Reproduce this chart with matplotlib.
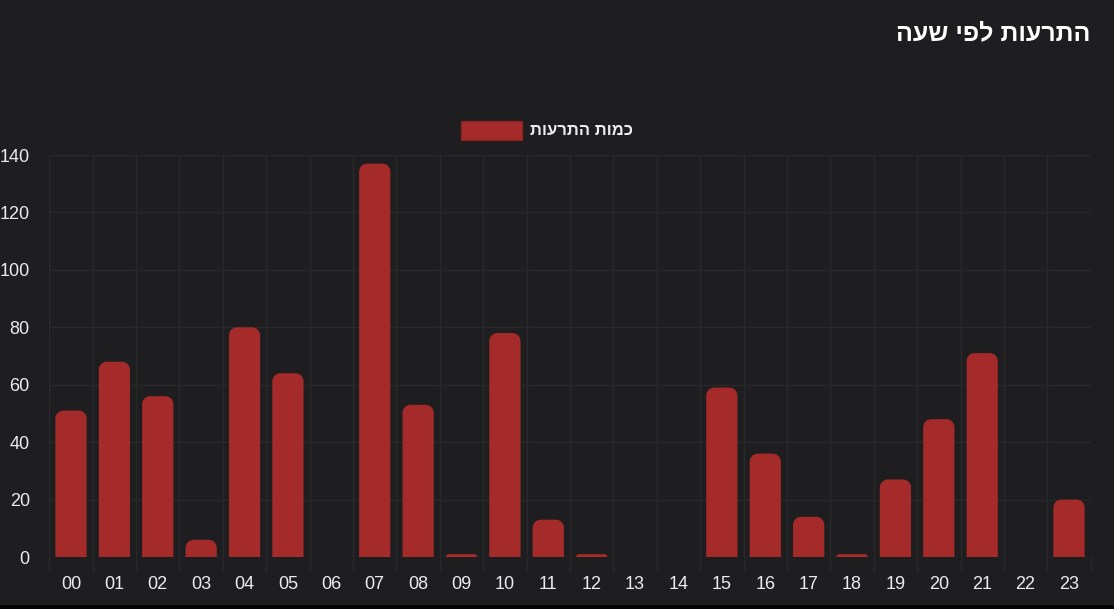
import matplotlib
matplotlib.use('Agg')
import matplotlib.pyplot as plt
from matplotlib.path import Path
from matplotlib.patches import PathPatch, Rectangle
import numpy as np

# data
hours = ['%02d' % h for h in range(24)]
alerts = [51, 68, 56, 6, 80, 64, 0, 137, 53, 1, 78, 13, 1, 0, 0, 59, 36, 14, 1, 27, 48, 71, 0, 20]
title_text = 'התרעות לפי שעה'
legend_text = 'כמות התרעות'
y_ticks = [0, 20, 40, 60, 80, 100, 120, 140]

BG = '#1e1e20'
BAR = '#a52a2a'
GRID = '#29292c'
TXT = '#ececec'

plt.rcParams['font.family'] = ['Liberation Sans', 'DejaVu Sans']

W, H, DPI = 1114, 609, 100
fig = plt.figure(figsize=(W / DPI, H / DPI), dpi=DPI, facecolor=BG)
ax = fig.add_axes([49.3 / W, 52 / H, 1041.4 / W, 402 / H], facecolor=BG)

n = len(hours)
ax.set_xlim(-0.5, n - 0.5)
ax.set_ylim(0, 140)

# pixel -> data scale for the rounded tops
px_x = (1041.4 / n)
px_y = 402 / 140.0
radius = 8
bar_w = 0.72

def rounded_bar(xc, h):
    x0, x1 = xc - bar_w / 2, xc + bar_w / 2
    hpx = h * px_y
    r = min(radius, hpx, bar_w * px_x / 2)
    rx, ry = r / px_x, r / px_y
    k = 0.5523
    verts = [(x0, 0), (x0, h - ry),
             (x0, h - ry + k * ry), (x0 + rx - k * rx, h), (x0 + rx, h),
             (x1 - rx, h),
             (x1 - rx + k * rx, h), (x1, h - ry + k * ry), (x1, h - ry),
             (x1, 0), (x0, 0)]
    codes = [Path.MOVETO, Path.LINETO,
             Path.CURVE4, Path.CURVE4, Path.CURVE4,
             Path.LINETO,
             Path.CURVE4, Path.CURVE4, Path.CURVE4,
             Path.LINETO, Path.CLOSEPOLY]
    return PathPatch(Path(verts, codes), facecolor=BAR, edgecolor='none', zorder=3)

for i, v in enumerate(alerts):
    if v > 0:
        ax.add_patch(rounded_bar(i, v))

# axes styling
for s in ax.spines.values():
    s.set_visible(False)
ax.set_xticks(range(n))
ax.set_xticklabels(hours)
ax.set_xticks(np.arange(-0.5, n, 1), minor=True)
ax.set_yticks(y_ticks)
ax.tick_params(axis='x', which='major', length=0, pad=14, labelsize=13, labelcolor=TXT)
ax.tick_params(axis='x', which='minor', length=10, color=GRID, width=1)
ax.tick_params(axis='y', which='major', length=0, pad=14, labelsize=13, labelcolor=TXT)
ax.grid(True, axis='x', which='minor', color=GRID, lw=1, zorder=0)
ax.grid(True, axis='y', which='major', color=GRID, lw=1, zorder=0)
ax.set_axisbelow(True)

# legend (drawn by hand, chart.js style)
fig.patches.append(Rectangle((461 / W, 1 - 140 / H), 61 / W, 19 / H, transform=fig.transFigure,
                             facecolor=BAR, edgecolor='#8a2020', lw=1))
fig.text(530 / W, 1 - 130.5 / H, legend_text[::-1], color=TXT, fontsize=12,
         fontweight='bold', ha='left', va='center')

# title
fig.text(1090 / W, 1 - 33 / H, title_text[::-1], color='white', fontsize=18,
         fontweight='bold', ha='right', va='center')

# dark strip along the bottom edge
fig.patches.append(Rectangle((0, 0), 1, 4 / H, transform=fig.transFigure,
                             facecolor='#050505', edgecolor='none'))

fig.savefig('out.png', dpi=DPI, facecolor=BG)
